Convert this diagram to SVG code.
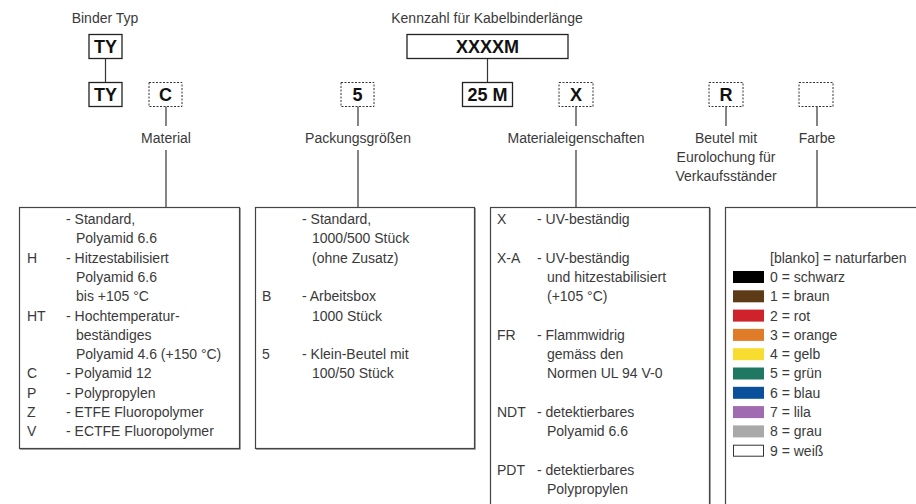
<svg xmlns="http://www.w3.org/2000/svg" width="916" height="504" viewBox="0 0 916 504">
<style>
text{font-family:"Liberation Sans",Arial,sans-serif;font-size:14px;fill:#3a3a3a}
.c{text-anchor:middle}
.b{font-weight:bold;font-size:18px;fill:#111;text-anchor:middle}
.solid{fill:#fff;stroke:#222;stroke-width:1.3}
.dot{fill:#fff;stroke:#333;stroke-width:1;stroke-dasharray:2 1.5}
.box{fill:#fff;stroke:#444;stroke-width:1.2}
.sh{fill:none;stroke:#aaa;stroke-width:1}
.ln{stroke:#333;stroke-width:1.2;fill:none}
.sw{stroke:none}
</style>
<g id="connectors">
<line class="ln" x1="105.5" y1="59" x2="105.5" y2="82"/>
<line class="ln" x1="487.5" y1="59" x2="487.5" y2="82"/>
<line class="ln" x1="166" y1="106" x2="166" y2="126"/>
<line class="ln" x1="166" y1="150" x2="166" y2="207"/>
<line class="ln" x1="358" y1="106" x2="358" y2="126"/>
<line class="ln" x1="358" y1="150" x2="358" y2="207"/>
<line class="ln" x1="576" y1="106" x2="576" y2="126"/>
<line class="ln" x1="576" y1="150" x2="576" y2="207"/>
<line class="ln" x1="726" y1="106" x2="726" y2="126"/>
<line class="ln" x1="817" y1="106" x2="817" y2="126"/>
<line class="ln" x1="817" y1="150" x2="817" y2="207"/>
</g>
<g id="binder-typ">
<text class="c" x="105" y="23">Binder Typ</text>
<rect class="solid" x="89" y="34.5" width="33" height="24"/>
<text class="b" x="105.5" y="53">TY</text>
</g>
<g id="ty">
<rect class="solid" x="89" y="82.5" width="33" height="24"/>
<text class="b" x="105.5" y="101">TY</text>
</g>
<g id="c-box">
<rect class="dot" x="149" y="82.5" width="33" height="24"/>
<text class="b" x="165.5" y="101">C</text>
<text class="c" x="166" y="143">Material</text>
</g>
<g id="five-box">
<rect class="dot" x="341" y="82.5" width="33" height="24"/>
<text class="b" x="357.5" y="101">5</text>
<text class="c" x="358" y="143">Packungsgrößen</text>
</g>
<g id="kennzahl">
<text class="c" x="487" y="23">Kennzahl für Kabelbinderlänge</text>
<rect class="solid" x="407" y="34.5" width="161" height="24"/>
<text class="b" x="487.5" y="53">XXXXM</text>
</g>
<g id="len-box">
<rect class="solid" x="462.5" y="82.5" width="50" height="24"/>
<text class="b" x="487.5" y="101">25 M</text>
</g>
<g id="x-box">
<rect class="dot" x="559" y="82.5" width="34" height="24"/>
<text class="b" x="576" y="101">X</text>
<text class="c" x="576" y="143">Materialeigenschaften</text>
</g>
<g id="r-box">
<rect class="dot" x="709" y="82.5" width="34" height="24"/>
<text class="b" x="726" y="101">R</text>
<text class="c" x="726" y="143">Beutel mit</text>
<text class="c" x="726" y="162">Eurolochung für</text>
<text class="c" x="726" y="181">Verkaufsständer</text>
</g>
<g id="farbe-box">
<rect class="dot" x="799" y="82.5" width="34" height="24"/>
<text class="c" x="817" y="143">Farbe</text>
</g>
<g id="material-list">
<polyline class="sh" points="240.5,208 240.5,449.5 20,449.5"/>
<rect class="box" x="19.5" y="207.5" width="220" height="241"/>
<text x="66" y="224">- Standard,</text>
<text x="76" y="243.3">Polyamid 6.6</text>
<text x="27" y="262.6">H</text><text x="66" y="262.6">- Hitzestabilisiert</text>
<text x="76" y="281.9">Polyamid 6.6</text>
<text x="76" y="301.2">bis +105 °C</text>
<text x="27" y="320.5">HT</text><text x="66" y="320.5">- Hochtemperatur-</text>
<text x="76" y="339.8">beständiges</text>
<text x="76" y="359.1">Polyamid 4.6 (+150 °C)</text>
<text x="27" y="378.4">C</text><text x="66" y="378.4">- Polyamid 12</text>
<text x="27" y="397.7">P</text><text x="66" y="397.7">- Polypropylen</text>
<text x="27" y="417">Z</text><text x="66" y="417">- ETFE Fluoropolymer</text>
<text x="27" y="436.3">V</text><text x="66" y="436.3">- ECTFE Fluoropolymer</text>
</g>
<g id="pack-list">
<polyline class="sh" points="475.5,208 475.5,449.5 256,449.5"/>
<rect class="box" x="255.5" y="207.5" width="219" height="241"/>
<text x="302" y="224">- Standard,</text>
<text x="312" y="243.3">1000/500 Stück</text>
<text x="312" y="262.6">(ohne Zusatz)</text>
<text x="262" y="301.2">B</text><text x="302" y="301.2">- Arbeitsbox</text>
<text x="312" y="320.5">1000 Stück</text>
<text x="262" y="359.1">5</text><text x="302" y="359.1">- Klein-Beutel mit</text>
<text x="312" y="378.4">100/50 Stück</text>
</g>
<g id="eigenschaften-list">
<line class="sh" x1="710.5" y1="208" x2="710.5" y2="504"/>
<rect class="box" x="490.5" y="207.5" width="219" height="310"/>
<text x="497" y="224">X</text><text x="537" y="224">- UV-beständig</text>
<text x="497" y="262.6">X-A</text><text x="537" y="262.6">- UV-beständig</text>
<text x="547" y="281.9">und hitzestabilisiert</text>
<text x="547" y="301.2">(+105 °C)</text>
<text x="497" y="339.8">FR</text><text x="537" y="339.8">- Flammwidrig</text>
<text x="547" y="359.1">gemäss den</text>
<text x="547" y="378.4">Normen UL 94 V-0</text>
<text x="497" y="417">NDT</text><text x="537" y="417">- detektierbares</text>
<text x="547" y="436.3">Polyamid 6.6</text>
<text x="497" y="474.9">PDT</text><text x="537" y="474.9">- detektierbares</text>
<text x="547" y="494.2">Polypropylen</text>
</g>
<g id="farbe-list">
<rect class="box" x="725.5" y="207.5" width="220" height="310"/>
<text x="770" y="262.6">[blanko] = naturfarben</text>
<rect class="sw" x="733" y="271" width="31" height="12" fill="#000"/><text x="770" y="281.9">0 = schwarz</text>
<rect class="sw" x="733" y="290.3" width="31" height="12" fill="#5d3b17"/><text x="770" y="301.2">1 = braun</text>
<rect class="sw" x="733" y="309.6" width="31" height="12" fill="#d0222a"/><text x="770" y="320.5">2 = rot</text>
<rect class="sw" x="733" y="328.9" width="31" height="12" fill="#e07c28"/><text x="770" y="339.8">3 = orange</text>
<rect class="sw" x="733" y="348.2" width="31" height="12" fill="#f8dc30"/><text x="770" y="359.1">4 = gelb</text>
<rect class="sw" x="733" y="367.5" width="31" height="12" fill="#217862"/><text x="770" y="378.4">5 = grün</text>
<rect class="sw" x="733" y="386.8" width="31" height="12" fill="#0b509a"/><text x="770" y="397.7">6 = blau</text>
<rect class="sw" x="733" y="406.1" width="31" height="12" fill="#a06bb0"/><text x="770" y="417">7 = lila</text>
<rect class="sw" x="733" y="425.4" width="31" height="12" fill="#aaa9a9"/><text x="770" y="436.3">8 = grau</text>
<rect x="733.5" y="445.2" width="30" height="11" fill="#fff" stroke="#333" stroke-width="1"/><text x="770" y="455.6">9 = weiß</text>
</g>
</svg>
